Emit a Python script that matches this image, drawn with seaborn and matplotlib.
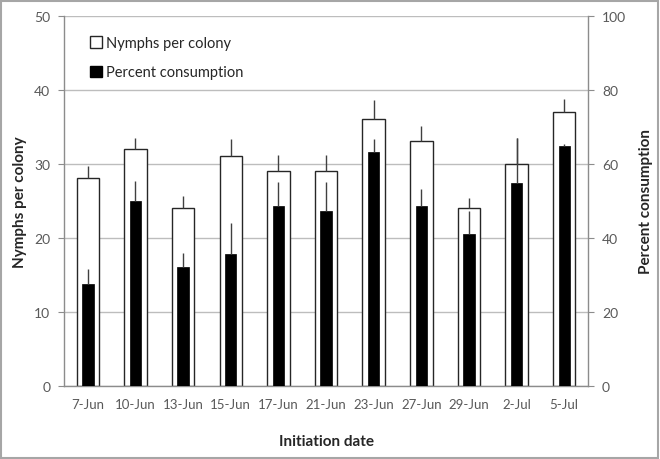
import numpy as np
import pandas as pd
import matplotlib
matplotlib.use('Agg')
import matplotlib.pyplot as plt
import seaborn as sns
from matplotlib.patches import Patch, Rectangle

# data
dates = ['7-Jun', '10-Jun', '13-Jun', '15-Jun', '17-Jun', '21-Jun',
         '23-Jun', '27-Jun', '29-Jun', '2-Jul', '5-Jul']
nymphs = [28, 32, 24, 31, 29, 29, 36, 33, 24, 30, 37]
nymphs_err = [1.7, 1.5, 1.6, 2.3, 2.2, 2.2, 2.6, 2.1, 1.4, 3.5, 1.7]
consumption = [27.6, 50.0, 32.2, 35.5, 48.5, 47.2, 63.1, 48.5, 41.1, 54.8, 64.7]
consumption_err = [3.9, 5.2, 3.6, 8.5, 6.5, 7.8, 3.6, 4.6, 6.0, 12.2, 0.6]

df = pd.DataFrame({'date': dates, 'nymphs': nymphs, 'consumption': consumption})
n = len(dates)
xpos = np.arange(n)

sns.set_style('white')
plt.rcParams['font.family'] = ['Lato', 'DejaVu Sans']

grey = '#8c8c8c'
tick_col = '#595959'

fig = plt.figure(figsize=(6.6, 4.6), dpi=100)
ax = fig.add_axes([0.097, 0.159, 0.794, 0.805])

sns.barplot(data=df, x='date', y='nymphs', color='white', edgecolor='#262626',
            linewidth=1, width=0.47, saturation=1, errorbar=None, ax=ax)
ax.errorbar(xpos, nymphs, yerr=[np.zeros(n), nymphs_err], fmt='none',
            ecolor='#404040', elinewidth=1, capsize=0)

ax2 = ax.twinx()
sns.barplot(data=df, x='date', y='consumption', color='black', edgecolor='black',
            linewidth=0.5, width=0.24, saturation=1, errorbar=None, ax=ax2)
ax2.errorbar(xpos, consumption, yerr=[np.zeros(n), consumption_err], fmt='none',
             ecolor='#404040', elinewidth=1, capsize=0)

ax.set_ylim(0, 50)
ax.set_yticks(np.arange(0, 51, 10))
ax2.set_ylim(0, 100)
ax2.set_yticks(np.arange(0, 101, 20))
ax.set_xlim(-0.5, n - 0.5)

ax.set_axisbelow(True)
ax.yaxis.grid(True, color='#bdbdbd', linewidth=1)
ax.xaxis.grid(False)

for a in (ax, ax2):
    for s in a.spines.values():
        s.set_visible(False)
ax.spines['left'].set_visible(True)
ax.spines['bottom'].set_visible(True)
ax2.spines['right'].set_visible(True)
for s in (ax.spines['left'], ax.spines['bottom'], ax2.spines['right']):
    s.set_color(grey)
    s.set_linewidth(1)

ax.set_xticks(np.arange(-0.5, n, 1), minor=True)
ax.tick_params(axis='x', which='major', length=0, pad=9, labelsize=9.5, labelcolor=tick_col)
ax.tick_params(axis='x', which='minor', length=5, color=grey, direction='out')
ax.tick_params(axis='y', left=True, length=4, color=grey, labelsize=10,
               labelcolor=tick_col, pad=6)
ax2.tick_params(axis='y', right=True, length=4, color=grey, labelsize=10,
                labelcolor=tick_col, pad=6)

ax.set_xlabel('Initiation date', fontsize=11, fontweight='bold', labelpad=17)
ax.set_ylabel('Nymphs per colony', fontsize=11, fontweight='bold', labelpad=5)
ax2.set_ylabel('Percent consumption', fontsize=11, fontweight='bold',
               rotation=90, labelpad=9)

handles = [Patch(facecolor='white', edgecolor='#262626', linewidth=1),
           Patch(facecolor='black', edgecolor='black')]
ax.legend(handles, ['Nymphs per colony', 'Percent consumption'], loc='upper left',
          bbox_to_anchor=(0.025, 0.98), frameon=False, fontsize=10.5,
          handlelength=0.8, handleheight=0.8, handletextpad=0.3,
          labelspacing=1.05, labelcolor='#262626')

fig.add_artist(Rectangle((0.002, 0.003), 0.995, 0.993, transform=fig.transFigure,
                         fill=False, edgecolor='#a6a6a6', linewidth=1.5))

fig.savefig('out.png', dpi=100)
